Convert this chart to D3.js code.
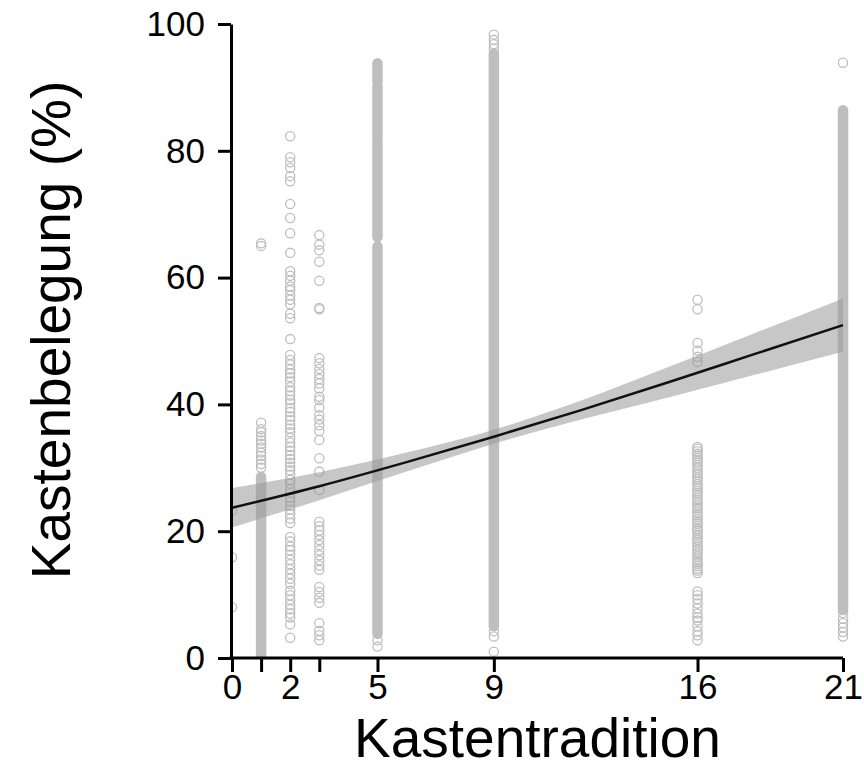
<!DOCTYPE html>
<html>
<head>
<meta charset="utf-8">
<script src="https://cdn.jsdelivr.net/npm/d3@7"></script>
<style>
  body { margin: 0; background: #fff; }
  text { font-family: "Liberation Sans", Arial, sans-serif; fill: #000; }
</style>
</head>
<body>
<div id="chart"></div>
<script>
const width = 864;
const height = 770;

// x positions that carry points, and their tick labels
const xCats = [0, 1, 2, 3, 5, 9, 16, 21];
const xTickLabels = ["0", "", "2", "", "5", "9", "16", "21"];
const yTicks = [0, 20, 40, 60, 80, 100];

const pts0 = [23.2, 15.9, 8.0];
const pts1 = [30.0, 30.6, 31.3, 31.9, 32.4, 33.2, 33.8, 34.3, 35.0, 35.6, 36.1, 37.1, 65.0, 65.4];
const pts2 = [82.3,79.0,78.2,77.3,76.0,75.2,71.6,69.4,67.0,63.9,61.0,60.3,59.5,58.6,58.0,57.2,56.5,55.8,54.3,53.6,50.3,47.8,47.0,46.3,45.5,44.9,44.3,43.6,42.7,42.1,41.4,40.7,40.2,39.4,38.8,38.1,37.5,36.8,36.2,35.6,34.7,34.0,33.3,32.7,32.0,31.4,30.8,30.2,29.6,28.9,28.1,27.5,26.6,26.0,25.3,24.7,24.0,23.4,22.7,22.0,21.3,
  19.1,18.4,17.6,17.0,16.3,15.5,14.8,14.0,13.3,12.5,11.7,10.6,9.9,9.2,8.4,7.7,7.0,6.4,5.3,3.2];
const pts3 = [66.7,65.2,64.3,62.5,59.5,55.2,55.0,47.3,46.5,45.6,44.8,44.0,43.3,42.5,41.2,40.7,39.5,38.3,37.6,36.7,35.8,34.4,31.5,29.4,26.5,
  21.5,20.8,20.1,19.4,18.6,17.8,17.0,16.2,15.4,14.6,13.9,11.2,10.4,9.5,8.7,5.5,4.3,3.6,2.8];
const pts5 = [1.8, 2.8];
const pts9 = [1.0, 3.4, 4.2, 96.1, 96.8, 97.5, 98.3];
const pts16 = [56.5,55.0,49.7,48.5,47.5,46.7,
  33.3,33.0,32.6,32.2,31.9,31.5,31.1,30.8,30.4,30.0,29.7,29.3,28.9,28.5,28.2,27.8,27.4,27.1,26.7,26.3,26.0,25.6,25.2,24.9,24.5,24.1,23.7,23.4,23.0,22.6,22.3,21.9,21.5,21.2,20.8,20.4,20.1,19.7,19.3,18.9,18.6,18.2,17.8,17.5,17.1,16.7,16.4,16.0,15.6,15.2,14.9,14.5,14.1,13.8,13.4,
  10.5,9.9,9.3,8.6,7.8,7.0,6.4,5.9,5.0,4.2,3.6,2.8];
const pts21 = [3.4, 4.1, 4.8, 5.5, 6.2, 7.1, 93.9];

// stretches where the observations overplot into a solid column [from, to]
const runs0 = [];
const runs1 = [[0.5, 28.6]];
const runs2 = [];
const runs3 = [];
const runs5 = [[3.8, 64.9], [66.4, 81.7], [82.3, 90.2], [90.9, 93.8]];
const runs9 = [[5.0, 95.3]];
const runs16 = [];
const runs21 = [[7.6, 86.4]];

const groups = [pts0, pts1, pts2, pts3, pts5, pts9, pts16, pts21];
const runGroups = [runs0, runs1, runs2, runs3, runs5, runs9, runs16, runs21];

// fitted curve and its confidence band
const fitX = [0, 3, 6, 9, 12, 15, 18, 21];
const fitY = [23.7, 27.1, 30.9, 34.9, 39.1, 43.5, 48.0, 52.5];
const fitLo = [20.6, 24.9, 29.4, 33.8, 37.6, 41.1, 44.7, 48.3];
const fitHi = [26.8, 29.3, 32.4, 36.0, 40.6, 45.9, 51.3, 56.7];

const svg = d3.select("#chart")
  .append("svg")
  .attr("width", width)
  .attr("height", height);

const x = d3.scaleLinear().domain([0, 21]).range([232, 843]);
const y = d3.scaleLinear().domain([0, 100]).range([658, 24]);

const r = 4.6;
const sw = 1.3;
const pointColor = "#bebebe";

svg.append("clipPath").attr("id", "panel")
  .append("rect")
  .attr("x", 232).attr("y", 0)
  .attr("width", width - 232).attr("height", 658);

const panel = svg.append("g").attr("clip-path", "url(#panel)");

const runs = runGroups.flatMap((list, i) => list.map(d => ({ x: xCats[i], lo: d[0], hi: d[1] })));

panel.selectAll("rect.run")
  .data(runs)
  .enter()
  .append("rect")
  .attr("class", "run")
  .attr("x", d => x(d.x) - r - sw / 2)
  .attr("width", 2 * r + sw)
  .attr("y", d => y(d.hi) - r - sw / 2)
  .attr("height", d => y(d.lo) - y(d.hi) + 2 * r + sw)
  .attr("rx", r + sw / 2)
  .attr("fill", pointColor);

const points = groups.flatMap((vals, i) => vals.map(v => ({ x: xCats[i], v })));

panel.selectAll("circle")
  .data(points)
  .enter()
  .append("circle")
  .attr("cx", d => x(d.x))
  .attr("cy", d => y(d.v))
  .attr("r", r)
  .attr("fill", "none")
  .attr("stroke", pointColor)
  .attr("stroke-width", sw);

const fit = fitX.map((d, i) => ({ x: d, y: fitY[i], lo: fitLo[i], hi: fitHi[i] }));

svg.append("path")
  .datum(fit)
  .attr("d", d3.area().curve(d3.curveMonotoneX)
    .x(d => x(d.x)).y0(d => y(d.lo)).y1(d => y(d.hi)))
  .attr("fill", "#999")
  .attr("fill-opacity", 0.55);

svg.append("path")
  .datum(fit)
  .attr("d", d3.line().curve(d3.curveMonotoneX).x(d => x(d.x)).y(d => y(d.y)))
  .attr("fill", "none")
  .attr("stroke", "#111")
  .attr("stroke-width", 2.5);

// axes
const yAxis = svg.append("g")
  .attr("transform", "translate(231,0)")
  .call(d3.axisLeft(y).tickValues(yTicks).tickSize(13).tickSizeOuter(0).tickPadding(13));

const xAxis = svg.append("g")
  .attr("transform", "translate(0,658)")
  .call(d3.axisBottom(x).tickValues(xCats).tickFormat((d, i) => xTickLabels[i])
    .tickSize(14).tickSizeOuter(0).tickPadding(2));

[yAxis, xAxis].forEach(g => {
  g.selectAll("path, line").attr("stroke", "#000").attr("stroke-width", 3);
  g.selectAll("text").style("font-size", "35px").attr("fill", "#000");
});
xAxis.select(".domain").attr("d", "M229.5,0H843");

svg.append("text")
  .attr("x", (x(0) + x(21)) / 2)
  .attr("y", 757)
  .attr("text-anchor", "middle")
  .style("font-size", "55px")
  .text("Kastentradition");

svg.append("text")
  .attr("transform", "translate(70,330) rotate(-90)")
  .attr("text-anchor", "middle")
  .style("font-size", "55px")
  .text("Kastenbelegung (%)");
</script>
</body>
</html>
